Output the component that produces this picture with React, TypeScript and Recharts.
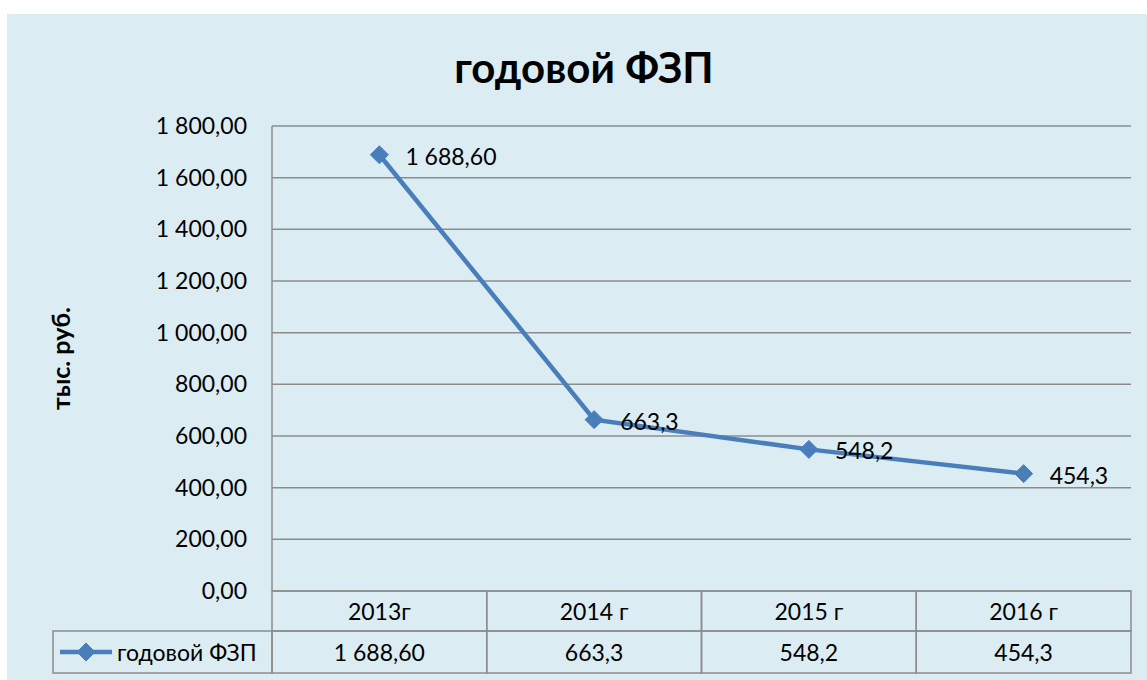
import React from 'react';
import { LineChart, Line, XAxis, YAxis, CartesianGrid, LabelList } from 'recharts';

const categories = ['2013г', '2014 г', '2015 г', '2016 г'];
const values = [1688.6, 663.3, 548.2, 454.3];
const valueLabels = ['1 688,60', '663,3', '548,2', '454,3'];
const yTicks = [0, 200, 400, 600, 800, 1000, 1200, 1400, 1600, 1800];
const seriesName = 'годовой ФЗП';
const chartTitle = 'годовой ФЗП';
const yAxisTitle = 'тыс. руб.';

const data = categories.map((c, i) => ({ category: c, value: values[i], label: valueLabels[i] }));

const CHART_W = 1140;
const CHART_H = 666;
const MARGIN = { top: 112, right: 16, bottom: 0, left: 0 };
const Y_W = 265;
const X_H = 89;
const PLOT_W = CHART_W - MARGIN.left - MARGIN.right - Y_W;
const BAND = PLOT_W / categories.length;
const ROW1 = 40;
const ROW2 = 42;
const LEGEND_W = 219;

const LINE_COLOR = '#4A7EBB';
const GRID_COLOR = '#8C8C8C';
const BG = '#DBEDF3';
const FONT = 'Lato, "Open Sans", sans-serif';
const FS = 23;

const fmt = (v: number) => {
  const [i, d] = v.toFixed(2).split('.');
  return i.replace(/\B(?=(\d{3})+(?!\d))/g, ' ') + ',' + d;
};

const Diamond = (props: any) => {
  const { cx, cy } = props;
  if (cx == null || cy == null) return null;
  const r = 9;
  return (
    <polygon
      points={`${cx},${cy - r} ${cx + r},${cy} ${cx},${cy + r} ${cx - r},${cy}`}
      fill={LINE_COLOR}
      stroke={LINE_COLOR}
      strokeWidth={1}
    />
  );
};

const TableTick = (props: any) => {
  const { x, y, payload, index } = props;
  const left = x - BAND / 2;
  const val = valueLabels[index];
  return (
    <g>
      <rect x={left} y={y} width={BAND} height={ROW1} fill="none" stroke={GRID_COLOR} strokeWidth={1.5} />
      <rect x={left} y={y + ROW1} width={BAND} height={ROW2} fill="none" stroke={GRID_COLOR} strokeWidth={1.5} />
      <text x={x} y={y + ROW1 / 2} textAnchor="middle" dominantBaseline="central" fontSize={FS} fill="#000" fontFamily={FONT}>
        {payload.value}
      </text>
      <text x={x} y={y + ROW1 + ROW2 / 2} textAnchor="middle" dominantBaseline="central" fontSize={FS} fill="#000" fontFamily={FONT}>
        {val}
      </text>
      {index === 0 && (
        <g>
          <rect x={left - LEGEND_W} y={y + ROW1} width={LEGEND_W} height={ROW2} fill="none" stroke={GRID_COLOR} strokeWidth={1.5} />
          <line x1={left - LEGEND_W + 7} x2={left - LEGEND_W + 59} y1={y + ROW1 + ROW2 / 2} y2={y + ROW1 + ROW2 / 2} stroke={LINE_COLOR} strokeWidth={4.5} />
          <Diamond cx={left - LEGEND_W + 33} cy={y + ROW1 + ROW2 / 2} />
          <text x={left - LEGEND_W + 64} y={y + ROW1 + ROW2 / 2} dominantBaseline="central" fontSize={FS} fill="#000" fontFamily={FONT}>
            {seriesName}
          </text>
        </g>
      )}
    </g>
  );
};

const PointLabel = (props: any) => {
  const { x, y, value } = props;
  return (
    <text x={x + 26} y={y + 1} dominantBaseline="central" fontSize={FS} fill="#000" fontFamily={FONT}>
      {value}
    </text>
  );
};

const YTitle = (props: any) => {
  const { viewBox } = props;
  const cx = viewBox.x + 53;
  const cy = viewBox.y + viewBox.height / 2;
  return (
    <text
      x={cx}
      y={cy}
      transform={`rotate(-90, ${cx}, ${cy})`}
      textAnchor="middle"
      dominantBaseline="central"
      fontSize={25}
      fontWeight="bold"
      fill="#000"
      fontFamily={FONT}
    >
      {yAxisTitle}
    </text>
  );
};

export default function App() {
  return (
    <div style={{ position: 'absolute', left: 0, top: 0, width: 1147, height: 680, background: '#fff', fontFamily: FONT }}>
      <div style={{ position: 'absolute', left: 7, top: 14, width: CHART_W, height: CHART_H, background: BG }}>
        <div
          style={{
            position: 'absolute',
            left: 7,
            top: 28,
            width: CHART_W,
            textAlign: 'center',
            fontSize: 42,
            lineHeight: '50px',
            fontWeight: 'bold',
            color: '#000',
            fontFamily: FONT,
          }}
        >
          {chartTitle}
        </div>
        <LineChart width={CHART_W} height={CHART_H} data={data} margin={MARGIN} style={{ position: 'absolute', left: 0, top: 0 }}>
          <CartesianGrid vertical={false} stroke={GRID_COLOR} strokeWidth={1.5} />
          <XAxis
            dataKey="category"
            height={X_H}
            padding={{ left: BAND / 2, right: BAND / 2 }}
            axisLine={false}
            tickLine={false}
            tickSize={0}
            tickMargin={0}
            interval={0}
            tick={<TableTick />}
          />
          <YAxis
            width={Y_W}
            domain={[0, 1800]}
            ticks={yTicks}
            tickFormatter={fmt}
            axisLine={{ stroke: GRID_COLOR, strokeWidth: 1.5 }}
            tickLine={false}
            tickSize={0}
            tickMargin={25}
            tick={{ fontSize: FS, fill: '#000', fontFamily: FONT }}
            label={<YTitle />}
          />
          <Line
            dataKey="value"
            stroke={LINE_COLOR}
            strokeWidth={4.5}
            dot={<Diamond />}
            activeDot={false}
            isAnimationActive={false}
          >
            <LabelList dataKey="label" content={<PointLabel />} />
          </Line>
        </LineChart>
      </div>
    </div>
  );
}
